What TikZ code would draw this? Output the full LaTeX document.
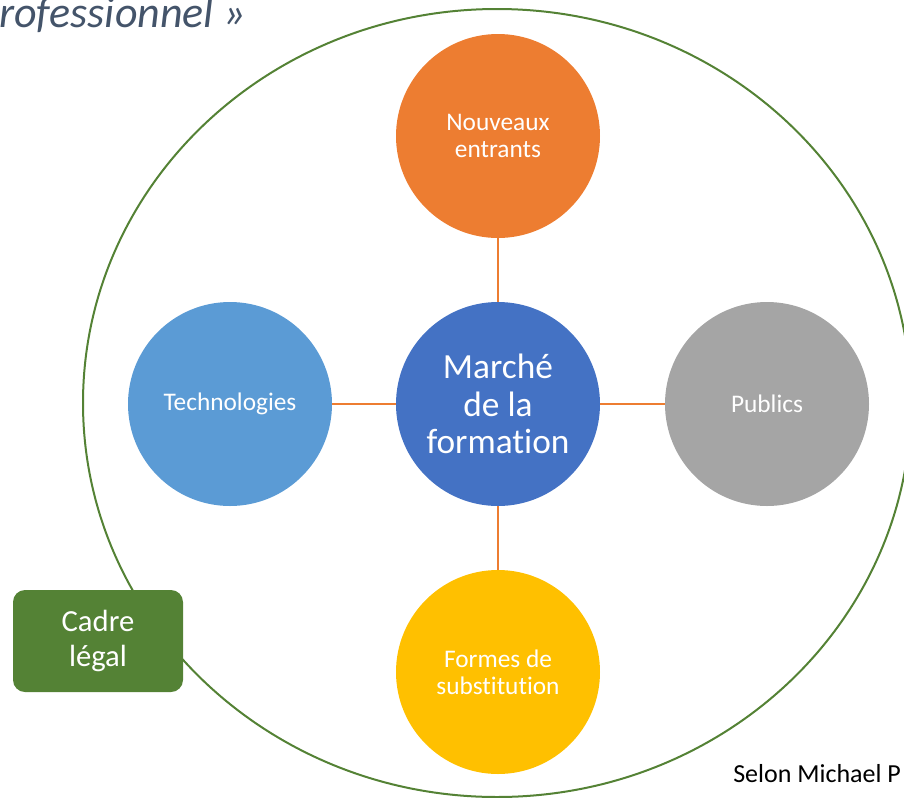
\documentclass[tikz,border=0pt]{standalone}
\usepackage{fontspec}
\setmainfont{Carlito}[Ligatures=NoCommon]
\definecolor{orangeN}{HTML}{ED7D31}
\definecolor{blueM}{HTML}{4472C4}
\definecolor{blueT}{HTML}{5B9BD5}
\definecolor{greyP}{HTML}{A5A5A5}
\definecolor{yellowF}{HTML}{FFC000}
\definecolor{greenC}{HTML}{548235}
\definecolor{titleC}{HTML}{44546A}

\begin{document}
\begin{tikzpicture}[x=0.75pt,y=-0.75pt,
  bubble/.style={circle,minimum size=153pt,inner sep=0pt,text=white,align=center,
    font=\fontsize{19}{20.5}\selectfont},
  link/.style={draw=orangeN,line width=1.5pt}]
  \useasboundingbox (0,0) rectangle (904,797);

  % outer frame
  \draw[greenC,line width=1.5pt] (497,403) ellipse [x radius=310.5pt, y radius=295.5pt];

  \node[bubble,fill=blueM,font=\fontsize{26.5}{28}\selectfont] (marche) at (498,404) {Marché\\de la\\formation};
  \node[bubble,fill=orangeN] (entrants) at (498,136) {Nouveaux\\entrants};
  \node[bubble,fill=blueT] (techno) at (230,404) {Technologies};
  \node[bubble,fill=greyP] (publics) at (767,404) {Publics};
  \node[bubble,fill=yellowF] (substitution) at (498,672) {Formes de\\substitution};

  \draw[link] (marche) -- (entrants);
  \draw[link] (marche) -- (techno);
  \draw[link] (marche) -- (publics);
  \draw[link] (marche) -- (substitution);

  \node[fill=greenC,rounded corners=9pt,minimum width=127.5pt,minimum height=76.5pt,
    text=white,align=center,font=\fontsize{23}{26}\selectfont] (cadre) at (98,641) {Cadre\\légal};

  \node[anchor=base west,inner sep=0pt,text=titleC,font=\fontsize{33}{36}\selectfont\itshape] (titre) at (-1,27) {rofessionnel »};
  \node[anchor=base west,inner sep=0pt,font=\fontsize{19.5}{21}\selectfont] (source) at (733,782) {Selon Michael P};
\end{tikzpicture}
\end{document}
